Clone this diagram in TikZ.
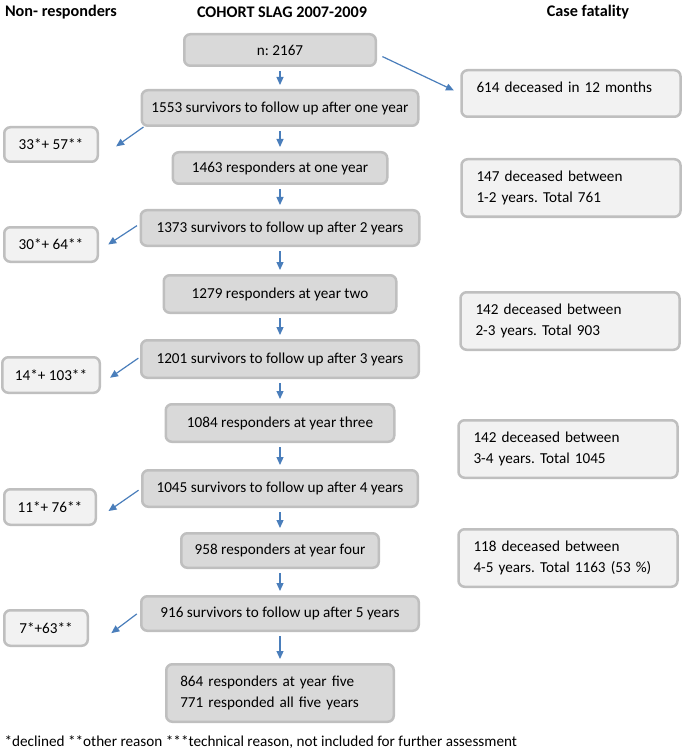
\documentclass[tikz,border=0pt]{standalone}
\usepackage{fontspec}
\setmainfont{Carlito}
\usetikzlibrary{arrows.meta,positioning}

\definecolor{boxgrey}{HTML}{D9D9D9}
\definecolor{sidegrey}{HTML}{F2F2F2}
\definecolor{edgegrey}{HTML}{BFBFBF}
\definecolor{flowblue}{HTML}{4A7EBB}
\frenchspacing

\begin{document}
\begin{tikzpicture}[x=1pt,y=-1pt,
    font=\fontsize{15.2}{21.5}\selectfont,
    mainbox/.style={rectangle, rounded corners=6pt, draw=edgegrey, line width=2.5pt, fill=boxgrey, inner sep=0pt},
    sidebox/.style={rectangle, rounded corners=6pt, draw=edgegrey, line width=2.5pt, fill=sidegrey, inner sep=0pt},
    deadbox/.style={sidebox, text width=189pt, inner xsep=15pt, align=left, minimum height=57.5pt},
    flow/.style={-{Triangle[width=7pt,length=8pt]}, draw=flowblue, line width=1.2pt},
    head/.style={font=\fontsize{16.2}{19}\selectfont\bfseries}]
        \useasboundingbox (0,0) rectangle (685,751);

        % column titles
        \node[head] (TitleLeft) at (61,12) {Non- responders};
        \node[head] (TitleMid) at (282,12) {COHORT SLAG 2007-2009};
        \node[head] (TitleRight) at (588,12) {Case fatality};

        % cohort column
        \node[mainbox, minimum width=191.5pt, minimum height=31.5pt] (Start) at (280,50) {n: 2167};
        \node[mainbox, minimum width=276.5pt, minimum height=35.5pt, below=22pt of Start] (Surv1) {1553 survivors to follow up after one year};
        \node[mainbox, minimum width=214.5pt, minimum height=31.5pt, below=24pt of Surv1] (Resp1) {1463 responders at one year};
        \node[mainbox, minimum width=278.5pt, minimum height=35.5pt, below=24pt of Resp1] (Surv2) {1373 survivors to follow up after 2 years};
        \node[mainbox, minimum width=232.5pt, minimum height=37.5pt, below=27pt of Surv2] (Resp2) {1279 responders at year two};
        \node[mainbox, minimum width=277.5pt, minimum height=37.5pt, below=25pt of Resp2] (Surv3) {1201 survivors to follow up after 3 years};
        \node[mainbox, minimum width=228.5pt, minimum height=37.5pt, below=24pt of Surv3] (Resp3) {1084 responders at year three};
        \node[mainbox, minimum width=275.5pt, minimum height=36.5pt, below=26pt of Resp3] (Surv4) {1045 survivors to follow up after 4 years};
        \node[mainbox, minimum width=197.5pt, minimum height=34.5pt, below=24pt of Surv4] (Resp4) {958 responders at year four};
        \node[mainbox, minimum width=277.5pt, minimum height=34.5pt, below=26pt of Resp4] (Surv5) {916 survivors to follow up after 5 years};
        \node[mainbox, text width=199.5pt, inner xsep=14pt, align=left, minimum height=57.5pt, below=31pt of Surv5] (Final) {864 responders at year five\\771 responded all five years};

        % non-responders
        \node[sidebox, minimum width=93.5pt, minimum height=34.5pt] (Non1) at (51,144.5) {33*+ 57**};
        \node[sidebox, minimum width=93.5pt, minimum height=34.5pt] (Non2) at (51,244.5) {30*+ 64**};
        \node[sidebox, minimum width=97.5pt, minimum height=35.5pt] (Non3) at (51,375) {14*+ 103**};
        \node[sidebox, minimum width=91.5pt, minimum height=35.5pt] (Non4) at (50,507) {11*+ 76**};
        \node[sidebox, minimum width=83.5pt, minimum height=35.5pt] (Non5) at (46,628) {7*+63**};

        % case fatality
        \node[deadbox, minimum height=46.5pt] (Dead1) at (571,93.5) {614 deceased in 12 months\\[-8pt]\mbox{}};
        \node[deadbox] (Dead2) at (571,188) {147 deceased between\\1-2 years. Total 761};
        \node[deadbox] (Dead3) at (570,321) {142 deceased between\\2-3 years. Total 903};
        \node[deadbox] (Dead4) at (568,449) {142 deceased between\\3-4 years. Total 1045};
        \node[deadbox] (Dead5) at (568,558) {118 deceased between\\4-5 years. Total 1163 (53 \%)};

        \node[anchor=west] (Note) at (1,742) {*declined **other reason ***technical reason, not included for further assessment};

        % downward flow
        \draw[flow, shorten <=4pt, shorten >=4pt] (Start) -- (Surv1);
        \draw[flow, shorten <=4pt, shorten >=4pt] (Surv1) -- (Resp1);
        \draw[flow, shorten <=4pt, shorten >=4pt] (Resp1) -- (Surv2);
        \draw[flow, shorten <=4pt, shorten >=4pt] (Surv2) -- (Resp2);
        \draw[flow, shorten <=4pt, shorten >=4pt] (Resp2) -- (Surv3);
        \draw[flow, shorten <=4pt, shorten >=4pt] (Surv3) -- (Resp3);
        \draw[flow, shorten <=4pt, shorten >=4pt] (Resp3) -- (Surv4);
        \draw[flow, shorten <=4pt, shorten >=4pt] (Surv4) -- (Resp4);
        \draw[flow, shorten <=4pt, shorten >=4pt] (Resp4) -- (Surv5);
        \draw[flow, shorten <=4pt, shorten >=4pt] (Surv5) -- (Final);

        % side flows
        \draw[flow, shorten <=6pt, shorten >=7pt] ([yshift=-4pt]Start.east) -- (Dead1.west);
        \draw[flow, shorten >=21pt] ([xshift=3pt]Surv1.south west) -- ([yshift=-14pt]Non1.east);
        \draw[flow, shorten <=3pt, shorten >=11pt] ([yshift=4pt]Surv2.west) -- ([yshift=-6pt]Non2.east);
        \draw[flow, shorten <=2pt, shorten >=11pt] ([yshift=2pt]Surv3.west) -- ([yshift=-9pt]Non3.east);
        \draw[flow, shorten <=3pt, shorten >=14pt] (Surv4.west) -- ([yshift=-12pt]Non4.east);
        \draw[flow, shorten <=4pt, shorten >=28pt] ([yshift=2pt]Surv5.west) -- ([yshift=-22pt]Non5.east);
      \end{tikzpicture}
\end{document}
